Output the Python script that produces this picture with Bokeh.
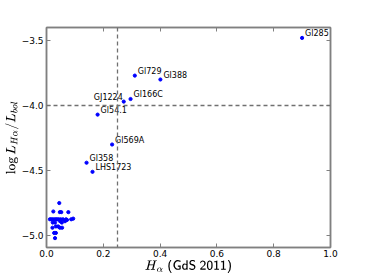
from bokeh.plotting import figure
from bokeh.models import FixedTicker, Span, LinearAxis, ColumnDataSource, Range1d, CustomJSTickFormatter
from bokeh.core.properties import value
from bokeh.embed import file_html
from bokeh.resources import INLINE

# Labelled stars
names = ["Gl285", "Gl729", "Gl388", "Gl166C", "GJ1224", "Gl54.1", "Gl569A", "Gl358", "LHS1723"]
lab_x = [0.90, 0.311, 0.401, 0.296, 0.272, 0.180, 0.231, 0.141, 0.162]
lab_y = [-3.48, -3.77, -3.80, -3.95, -3.97, -4.07, -4.30, -4.44, -4.51]

# Unlabelled cluster of stars
cl_x = [0.045, 0.024, 0.047, 0.052, 0.077, 0.012, 0.017, 0.022, 0.028, 0.033, 0.038,
        0.043, 0.050, 0.058, 0.069, 0.072, 0.087, 0.094, 0.048, 0.054, 0.022, 0.030,
        0.021, 0.033, 0.041, 0.047, 0.055, 0.027, 0.033, 0.030, 0.065]
cl_y = [-4.75, -4.815, -4.82, -4.82, -4.82, -4.875, -4.875, -4.875, -4.875, -4.875, -4.875,
        -4.875, -4.875, -4.875, -4.875, -4.88, -4.875, -4.87, -4.89, -4.90, -4.90, -4.90,
        -4.94, -4.93, -4.93, -4.94, -4.94, -4.98, -4.98, -5.02, -4.89]

x_ticks = [0.0, 0.2, 0.4, 0.6, 0.8, 1.0]
y_ticks = [-5.0, -4.5, -4.0, -3.5]
y_tick_labels = ["\u22125.0", "\u22124.5", "\u22124.0", "\u22123.5"]
x_cut = 0.25
y_cut = -4.0

axis_col = "#808080"

p = figure(frame_width=284, frame_height=220, output_backend="svg", toolbar_location=None,
           x_range=Range1d(0, 1.0), y_range=Range1d(-5.092, -3.4),
           min_border_left=46, min_border_right=36, min_border_top=27, min_border_bottom=0)
p.grid.visible = False
p.outline_line_color = axis_col
p.outline_line_width = 1.5

font = "DejaVu Sans"
for ax in [p.xaxis[0], p.yaxis[0]]:
    ax.major_tick_in = 4
    ax.major_tick_out = 0
    ax.minor_tick_line_color = None
    ax.axis_line_color = axis_col
    ax.axis_line_width = 1.5
    ax.major_tick_line_color = axis_col
    ax.major_label_text_font = font
    ax.major_label_text_font_size = "9px"
    ax.major_label_text_color = "black"
    ax.axis_label_text_font_style = "normal"
    ax.axis_label_text_color = "black"

p.xaxis[0].ticker = FixedTicker(ticks=x_ticks)
p.xaxis[0].major_label_overrides = {t: f"{t:.1f}" for t in x_ticks}
p.xaxis[0].major_label_standoff = 2
p.xaxis[0].axis_label = r"$$H_\alpha \; \mathsf{(GdS\ 2011)}$$"
p.xaxis[0].axis_label_standoff = 0
p.xaxis[0].axis_label_text_font_size = "11px"

p.yaxis[0].ticker = FixedTicker(ticks=y_ticks)
p.yaxis[0].major_label_overrides = dict(zip(y_ticks, y_tick_labels))
p.yaxis[0].major_label_standoff = 3
p.yaxis[0].axis_label = r"$$\log L_{H\alpha}/L_{bol}$$"
p.yaxis[0].axis_label_standoff = 0
p.yaxis[0].axis_label_text_font_size = "11px"

blank = CustomJSTickFormatter(code="return ''")
top = LinearAxis(ticker=FixedTicker(ticks=x_ticks), formatter=blank,
                 major_tick_in=4, major_tick_out=0, minor_tick_line_color=None,
                 axis_line_color=axis_col, axis_line_width=1.5,
                 major_tick_line_color=axis_col, major_label_standoff=0)
right = LinearAxis(ticker=FixedTicker(ticks=y_ticks), formatter=blank,
                   major_tick_in=4, major_tick_out=0, minor_tick_line_color=None,
                   axis_line_color=axis_col, axis_line_width=1.5,
                   major_tick_line_color=axis_col, major_label_standoff=0)
p.add_layout(top, "above")
p.add_layout(right, "right")

p.add_layout(Span(location=x_cut, dimension="height", line_color="#707070",
                  line_dash="4 3", line_width=1.3))
p.add_layout(Span(location=y_cut, dimension="width", line_color="#707070",
                  line_dash="4 3", line_width=1.3))

p.scatter(cl_x, cl_y, size=3.2, color="blue")
align = ["right" if n == "GJ1224" else "left" for n in names]
xoff = [-1 if a == "right" else 3 for a in align]
src = ColumnDataSource(dict(x=lab_x, y=lab_y, n=names, a=align, xo=xoff))
p.scatter("x", "y", source=src, size=3.2, color="blue")
p.text("x", "y", text="n", source=src, x_offset="xo", y_offset=0, text_align="a",
       text_font=value(font), text_font_size="8px", text_baseline="bottom",
       text_color="black")

open("out.html", "w").write(file_html(p, INLINE))
